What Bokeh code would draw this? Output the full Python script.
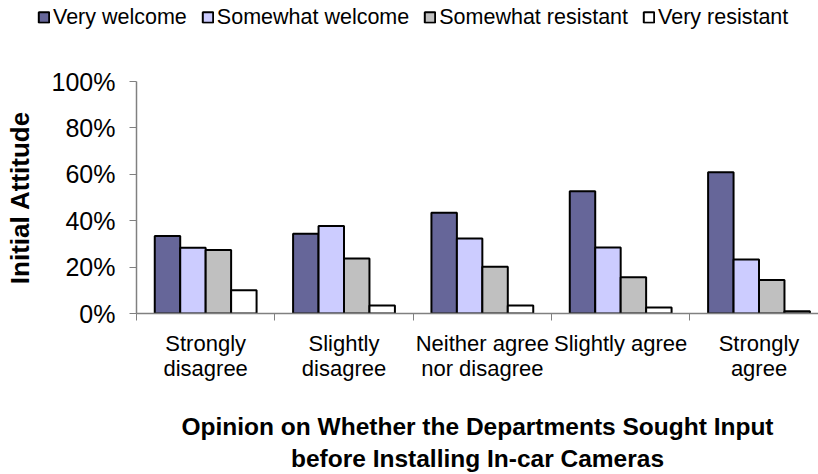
from bokeh.plotting import figure
from bokeh.layouts import column
from bokeh.models import (ColumnDataSource, Range1d, FixedTicker, NumeralTickFormatter,
                          Legend, LegendItem, BoxAnnotation)
from bokeh.embed import file_html
from bokeh.resources import INLINE

categories = ["Strongly\ndisagree", "Slightly\ndisagree", "Neither agree\nnor disagree",
              "Slightly agree", "Strongly\nagree"]
series_names = ["Very welcome", "Somewhat welcome", "Somewhat resistant", "Very resistant"]
very_welcome = [33.4, 34.4, 43.4, 52.7, 60.9]
somewhat_welcome = [28.3, 37.7, 32.3, 28.4, 23.3]
somewhat_resistant = [27.4, 23.7, 20.1, 15.6, 14.4]
very_resistant = [10.0, 3.4, 3.4, 2.6, 1.0]
y_ticks = [0, 0.2, 0.4, 0.6, 0.8, 1.0]

series_values = [very_welcome, somewhat_welcome, somewhat_resistant, very_resistant]
colors = ["#666699", "#CCCCFF", "#C0C0C0", "#FFFFFF"]
offsets = [-0.276, -0.092, 0.092, 0.276]
bar_w = 0.184

FONT = "Liberation Sans"
W = 818
LEG_H = 34

centers = [i + 0.5 for i in range(len(categories))]
sources = [ColumnDataSource(dict(x=[c + off for c in centers], top=[v / 100 for v in vals]))
           for vals, off in zip(series_values, offsets)]

# ---- legend strip (same data, out of view; only its legend shows) ----
pl = figure(width=W, height=LEG_H, output_backend="svg", toolbar_location=None,
            x_range=Range1d(0, 4.93), y_range=Range1d(10, 11),
            x_axis_type=None, y_axis_type=None,
            min_border_left=0, min_border_right=0, min_border_top=0, min_border_bottom=0)
pl.frame_align = False
pl.outline_line_color = None
pl.grid.grid_line_color = None
leg_items = []
for name, col, src in zip(series_names, colors, sources):
    r = pl.vbar(x="x", top="top", width=bar_w, bottom=0, source=src, fill_color=col,
                line_color="black", line_width=2)
    leg_items.append(LegendItem(label=name, renderers=[r]))
pl.add_layout(BoxAnnotation(fill_color="white", fill_alpha=1.0, line_color=None,
                            line_alpha=0))
legend = Legend(items=leg_items, orientation="horizontal", location="center_left",
                label_text_font=FONT, label_text_font_size="21.5px",
                label_text_color="black", glyph_width=13, glyph_height=13,
                label_standoff=3, spacing=14, padding=0, margin=37,
                border_line_color=None, background_fill_alpha=0)
pl.add_layout(legend, "center")

# ---- main chart ----
p = figure(width=W, height=474 - LEG_H, output_backend="svg", toolbar_location=None,
           x_range=Range1d(0, 4.93), y_range=Range1d(0, 1),
           min_border_left=136, min_border_top=81 - LEG_H, min_border_bottom=159,
           min_border_right=0)
p.frame_align = False
p.outline_line_color = None
p.grid.grid_line_color = None
p.background_fill_color = "white"

for col, src in zip(colors, sources):
    p.vbar(x="x", top="top", width=bar_w, bottom=0, source=src, fill_color=col,
           line_color="black", line_width=2)

# x axis
xa = p.xaxis[0]
xa.ticker = FixedTicker(ticks=centers, minor_ticks=list(range(len(categories) + 1)))
xa.major_label_overrides = {c: lab for c, lab in zip(centers, categories)}
xa.major_tick_out = 0
xa.major_tick_in = 0
xa.minor_tick_out = 7
xa.minor_tick_in = 0
xa.minor_tick_line_color = "#808080"
xa.axis_line_color = "#808080"
xa.axis_line_width = 1.5
xa.major_label_text_font = FONT
xa.major_label_text_font_size = "22px"
xa.major_label_text_color = "black"
xa.major_label_text_line_height = 1.0
xa.major_label_standoff = 10
xa.axis_label = "Opinion on Whether the Departments Sought Input\nbefore Installing In-car Cameras"
xa.axis_label_text_font = FONT
xa.axis_label_text_font_size = "24.5px"
xa.axis_label_text_font_style = "bold"
xa.axis_label_text_color = "black"
xa.axis_label_standoff = 29

# y axis
ya = p.yaxis[0]
ya.ticker = FixedTicker(ticks=y_ticks)
ya.formatter = NumeralTickFormatter(format="0%")
ya.major_tick_out = 7
ya.major_tick_in = 0
ya.minor_tick_line_color = None
ya.major_tick_line_color = "#808080"
ya.axis_line_color = "#808080"
ya.axis_line_width = 1.5
ya.major_label_text_font = FONT
ya.major_label_text_font_size = "25px"
ya.major_label_text_color = "black"
ya.major_label_standoff = 14
ya.axis_label = "Initial Attitude"
ya.axis_label_text_font = FONT
ya.axis_label_text_font_size = "26px"
ya.axis_label_text_font_style = "bold"
ya.axis_label_text_color = "black"
ya.axis_label_standoff = 14

layout = column(pl, p, spacing=0)
open("out.html", "w").write(file_html(layout, INLINE))
